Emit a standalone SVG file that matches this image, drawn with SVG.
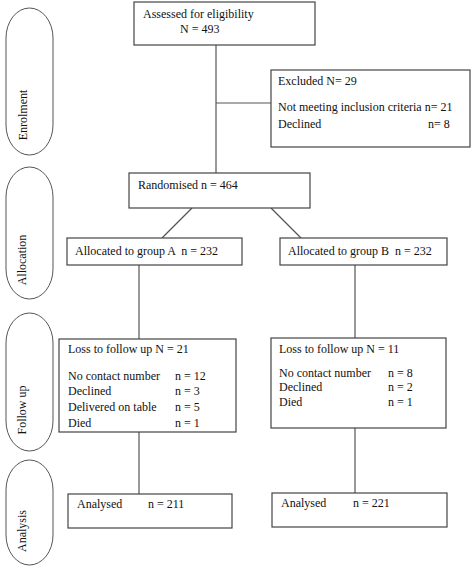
<svg xmlns="http://www.w3.org/2000/svg" width="472" height="568" viewBox="0 0 472 568">
<style>
.bg{fill:#fff}
.box{fill:#fff;stroke:#444;stroke-width:1.2}
.pill{fill:#fff;stroke:#555;stroke-width:1}
.ln{stroke:#555;stroke-width:1.2;fill:none}
text{font-family:"Liberation Serif","Times New Roman",serif;font-size:12px;fill:#111}
</style>
<rect class="bg" x="0" y="0" width="472" height="568"/>
<g id="stages">
<g id="stage-enrolment"><rect class="pill" x="6" y="8" width="47" height="147" rx="23.5" ry="30"/><text transform="translate(27,115) rotate(-90)" text-anchor="middle">Enrolment</text></g>
<g id="stage-allocation"><rect class="pill" x="6" y="167" width="47" height="132" rx="23.5" ry="30"/><text transform="translate(26,260) rotate(-90)" text-anchor="middle">Allocation</text></g>
<g id="stage-followup"><rect class="pill" x="6" y="313" width="47" height="138" rx="23.5" ry="30"/><text transform="translate(26,410) rotate(-90)" text-anchor="middle">Follow up</text></g>
<g id="stage-analysis"><rect class="pill" x="6" y="460" width="47" height="105" rx="23.5" ry="30"/><text transform="translate(26,531) rotate(-90)" text-anchor="middle">Analysis</text></g>
</g>
<g id="connectors">
<line class="ln" x1="216" y1="45" x2="216" y2="173"/>
<line class="ln" x1="216" y1="103" x2="271" y2="103"/>
<line class="ln" x1="192" y1="208" x2="162" y2="238"/>
<line class="ln" x1="271" y1="208" x2="301" y2="238"/>
<line class="ln" x1="139" y1="265" x2="139" y2="339"/>
<line class="ln" x1="355" y1="265" x2="355" y2="338"/>
<line class="ln" x1="139" y1="432" x2="139" y2="494"/>
<line class="ln" x1="355" y1="428" x2="355" y2="493"/>
</g>
<g id="assessed"><rect class="box" x="134" y="2" width="181" height="43"/><text x="143" y="18">Assessed for eligibility</text><text x="180" y="33">N = 493</text></g>
<g id="excluded"><rect class="box" x="271" y="70" width="199" height="77"/><text x="278" y="85">Excluded N= 29</text><text x="278" y="111">Not meeting inclusion criteria n= 21</text><text x="278" y="128">Declined</text><text x="428" y="128">n= 8</text></g>
<g id="randomised"><rect class="box" x="129" y="173" width="181" height="35"/><text x="138" y="189">Randomised n = 464</text></g>
<g id="alloc-a"><rect class="box" x="67" y="238" width="175" height="27"/><text x="75" y="255" xml:space="preserve">Allocated to group A  n = 232</text></g>
<g id="alloc-b"><rect class="box" x="280" y="238" width="167" height="27"/><text x="288" y="255" xml:space="preserve">Allocated to group B  n = 232</text></g>
<g id="loss-a"><rect class="box" x="59" y="339" width="177" height="93"/><text x="68" y="353">Loss to follow up N = 21</text><text x="68" y="380">No contact number</text><text x="175" y="380">n = 12</text><text x="68" y="395">Declined</text><text x="175" y="395">n = 3</text><text x="68" y="411">Delivered on table</text><text x="175" y="411">n = 5</text><text x="68" y="427">Died</text><text x="175" y="427">n = 1</text></g>
<g id="loss-b"><rect class="box" x="271" y="338" width="175" height="90"/><text x="279" y="353">Loss to follow up N = 11</text><text x="279" y="377">No contact number</text><text x="388" y="377">n = 8</text><text x="279" y="391">Declined</text><text x="388" y="391">n = 2</text><text x="279" y="406">Died</text><text x="388" y="406">n = 1</text></g>
<g id="analysed-a"><rect class="box" x="68" y="494" width="164" height="34"/><text x="77" y="508">Analysed</text><text x="148" y="508">n = 211</text></g>
<g id="analysed-b"><rect class="box" x="272" y="493" width="175" height="34"/><text x="281" y="507">Analysed</text><text x="353" y="507">n = 221</text></g>
</svg>
